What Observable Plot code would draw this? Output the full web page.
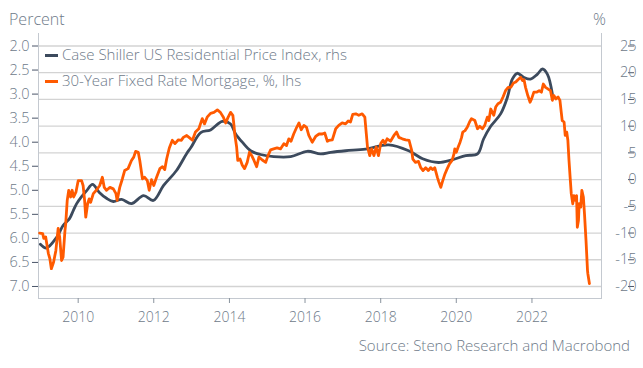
<!DOCTYPE html>
<html>
<head>
<meta charset="utf-8">
<script src="https://cdn.jsdelivr.net/npm/d3@7"></script>
<script src="https://cdn.jsdelivr.net/npm/@observablehq/plot@0.6"></script>
<style>
  html, body { margin: 0; padding: 0; background: #fff; }
  #wrap { position: relative; width: 643px; height: 368px; font-family: "Open Sans", sans-serif; color: #6e7a89; }
  .ov { position: absolute; white-space: nowrap; font-weight: 300; }
  .sw { position: absolute; width: 13px; height: 3px; }
</style>
</head>
<body>
<div id="wrap"></div>
<script>
// 30-Year Fixed Rate Mortgage, %, lhs (inverted axis)
const mortYears = [2008.98,2009.06,2009.09,2009.14,2009.21,2009.25,2009.29,2009.35,2009.41,2009.47,2009.51,2009.56,2009.60,2009.65,2009.67,2009.71,2009.75,2009.80,2009.84,2009.88,2009.94,2010.00,2010.09,2010.13,2010.17,2010.20,2010.25,2010.29,2010.33,2010.40,2010.48,2010.57,2010.64,2010.69,2010.75,2010.84,2010.93,2011.00,2011.03,2011.10,2011.17,2011.23,2011.32,2011.41,2011.47,2011.52,2011.59,2011.63,2011.70,2011.76,2011.83,2011.88,2011.94,2012.00,2012.07,2012.16,2012.23,2012.29,2012.34,2012.41,2012.49,2012.56,2012.65,2012.73,2012.78,2012.87,2012.93,2013.02,2013.10,2013.19,2013.28,2013.34,2013.41,2013.50,2013.59,2013.68,2013.76,2013.84,2013.90,2013.96,2014.03,2014.09,2014.12,2014.14,2014.19,2014.22,2014.28,2014.34,2014.40,2014.47,2014.53,2014.59,2014.65,2014.72,2014.78,2014.87,2014.96,2015.02,2015.09,2015.17,2015.26,2015.35,2015.44,2015.51,2015.57,2015.63,2015.70,2015.78,2015.84,2015.90,2015.97,2016.04,2016.10,2016.19,2016.28,2016.37,2016.46,2016.52,2016.59,2016.63,2016.72,2016.81,2016.89,2016.98,2017.07,2017.14,2017.20,2017.26,2017.34,2017.42,2017.51,2017.58,2017.62,2017.65,2017.71,2017.76,2017.82,2017.88,2017.94,2018.00,2018.06,2018.11,2018.17,2018.26,2018.35,2018.42,2018.48,2018.57,2018.66,2018.75,2018.82,2018.85,2018.92,2019.00,2019.06,2019.12,2019.19,2019.26,2019.32,2019.38,2019.43,2019.50,2019.54,2019.59,2019.63,2019.70,2019.76,2019.82,2019.89,2019.94,2019.96,2020.00,2020.05,2020.10,2020.14,2020.17,2020.23,2020.29,2020.35,2020.40,2020.49,2020.56,2020.62,2020.69,2020.75,2020.82,2020.86,2020.91,2020.95,2020.99,2021.04,2021.10,2021.17,2021.24,2021.30,2021.37,2021.44,2021.51,2021.57,2021.63,2021.70,2021.75,2021.79,2021.83,2021.89,2021.95,2021.99,2022.05,2022.12,2022.19,2022.25,2022.30,2022.36,2022.42,2022.49,2022.54,2022.58,2022.63,2022.69,2022.74,2022.78,2022.80,2022.85,2022.88,2022.92,2022.95,2022.98,2023.01,2023.04,2023.08,2023.11,2023.15,2023.18,2023.20,2023.23,2023.25,2023.29,2023.32,2023.36,2023.39,2023.43,2023.47,2023.48,2023.52];
const mortRates = [5.89,5.90,6.00,5.97,6.31,6.42,6.63,6.49,6.25,5.79,5.97,6.46,6.39,5.84,5.70,5.21,5.00,5.14,5.00,5.14,5.04,4.80,4.80,4.90,5.21,5.56,5.28,5.18,5.25,5.07,5.00,4.90,4.73,4.94,5.00,4.94,4.97,5.07,5.21,4.94,4.76,4.59,4.55,4.38,4.31,4.19,4.21,4.38,4.76,4.73,4.80,5.00,4.78,4.90,4.74,4.55,4.51,4.57,4.35,4.12,3.96,4.03,3.95,3.96,3.90,3.86,3.90,3.96,3.79,3.72,3.51,3.62,3.48,3.40,3.38,3.33,3.38,3.48,3.60,3.49,3.38,3.44,3.65,3.83,4.10,4.38,4.35,4.48,4.55,4.42,4.21,4.28,4.38,4.51,4.31,4.37,4.42,4.28,4.16,4.14,4.12,4.14,4.03,4.07,3.93,3.98,3.83,3.69,3.60,3.74,3.65,3.69,3.86,4.00,3.88,3.83,3.83,3.81,3.98,3.96,3.95,3.72,3.65,3.60,3.62,3.56,3.58,3.42,3.41,3.44,3.41,3.48,3.83,4.10,4.28,4.14,4.28,4.10,4.28,4.03,3.96,4.03,3.93,3.98,3.86,3.79,3.90,3.93,3.95,3.96,4.17,4.35,4.42,4.40,4.53,4.59,4.53,4.59,4.53,4.57,4.53,4.73,4.83,4.94,4.83,4.66,4.55,4.45,4.38,4.24,4.14,4.21,4.10,4.00,3.90,3.79,3.76,3.69,3.58,3.51,3.55,3.72,3.67,3.72,3.65,3.48,3.55,3.31,3.38,3.44,3.27,3.20,3.17,3.05,2.93,2.86,2.86,2.77,2.75,2.70,2.65,2.72,2.70,2.86,3.03,3.17,3.10,2.96,2.96,2.93,2.96,2.79,2.86,2.89,2.93,3.13,3.03,3.10,3.06,3.13,3.41,3.55,3.58,3.86,3.79,3.96,4.38,4.73,5.07,5.28,5.11,5.21,5.11,5.77,5.63,5.28,5.35,5.00,5.14,5.49,6.04,6.67,6.74,6.94];

// Case Shiller US Residential Price Index, % y/y, rhs
const csYears = [2009.00,2009.16,2009.43,2009.60,2009.77,2009.87,2009.96,2010.09,2010.22,2010.38,2010.56,2010.75,2010.93,2011.15,2011.41,2011.73,2011.99,2012.26,2012.60,2012.87,2012.98,2013.24,2013.50,2013.81,2014.03,2014.16,2014.34,2014.56,2014.82,2015.17,2015.62,2016.06,2016.41,2016.68,2017.07,2017.60,2018.21,2018.74,2019.11,2019.53,2019.89,2020.25,2020.56,2020.72,2020.90,2021.17,2021.35,2021.48,2021.61,2021.79,2021.96,2022.14,2022.28,2022.41,2022.54];
const csValues = [-12.1,-12.8,-10.8,-8.6,-7.3,-5.8,-4.5,-3.2,-2.1,-0.9,-2.4,-3.5,-4.1,-3.7,-4.5,-3.0,-3.9,-1.1,1.7,4.9,6.0,8.8,9.3,10.9,10.4,8.6,7.0,5.4,4.7,4.3,4.3,5.3,4.8,5.1,5.4,5.7,6.5,5.4,3.9,3.2,3.7,4.5,4.8,7.6,9.9,12.3,15.4,18.8,19.9,19.1,18.8,19.7,20.7,19.7,16.0];

// Tick labels
const leftTicks = [2.0,2.5,3.0,3.5,4.0,4.5,5.0,5.5,6.0,6.5,7.0];
const rightTicks = [25,20,15,10,5,0,-5,-10,-15,-20];
const xTickYears = [2010,2012,2014,2016,2018,2020,2022];

const orange = "#ff5a00";
const slate = "#3c4a5d";
const textCol = "#6e7a89";

function toDate(d) {
  const y = Math.floor(d);
  const a = Date.UTC(y, 0, 1), b = Date.UTC(y + 1, 0, 1);
  return new Date(a + (d - y) * (b - a));
}
// map right-axis (Case Shiller %) onto left-axis (rate) space
const toRate = v => 2 + (25 - v) / 9;
const fromRate = r => Math.round(25 - (r - 2) * 9);

const mort = mortYears.map((t, i) => ({date: toDate(t), v: mortRates[i]}));
const cs = csYears.map((t, i) => ({date: toDate(t), v: toRate(csValues[i])}));

const chart = Plot.plot({
  width: 643,
  height: 368,
  marginLeft: 38,
  marginRight: 42,
  marginTop: 33,
  marginBottom: 70,
  style: {fontFamily: "'Open Sans', sans-serif", fontSize: "13px", color: textCol, background: "transparent", fontWeight: 300},
  x: {type: "utc", domain: [toDate(2008.95), toDate(2023.84)]},
  y: {domain: [7.25, 1.74]},
  marks: [
    Plot.ruleY(rightTicks.map(toRate), {stroke: "#d3d3d3", strokeWidth: 1.3}),
    Plot.frame({anchor: "left", stroke: "#c4c9d0"}),
    Plot.frame({anchor: "right", stroke: "#c4c9d0"}),
    Plot.frame({anchor: "bottom", stroke: "#c4c9d0"}),
    Plot.axisY({anchor: "left", ticks: leftTicks, tickFormat: d3.format(".1f"), tickSize: 6, tickPadding: 3, stroke: "#4a5568", fill: textCol, label: null, fontSize: 14.5}),
    Plot.axisY({anchor: "right", ticks: rightTicks.map(toRate), tickFormat: r => String(fromRate(r)), tickSize: 6, tickPadding: 3, textAnchor: "end", dx: 26, stroke: "#4a5568", fill: textCol, label: null, fontSize: 14.5}),
    Plot.axisX({ticks: xTickYears.map(toDate), tickFormat: d => String(d.getUTCFullYear()), tickSize: 5, tickPadding: 9, stroke: "#8a939e", fill: textCol, label: null, fontSize: 14}),
    Plot.line(cs, {x: "date", y: "v", stroke: slate, strokeWidth: 2.8, curve: "catmull-rom"}),
    Plot.line(mort, {x: "date", y: "v", stroke: orange, strokeWidth: 2.8, strokeLinejoin: "round"})
  ]
});

const wrap = document.getElementById("wrap");
wrap.appendChild(chart);
chart.style.position = "absolute";
chart.style.left = "0px";
chart.style.top = "0px";

function addText(txt, left, top, size, extra) {
  const el = document.createElement("div");
  el.className = "ov";
  el.textContent = txt;
  el.style.left = left + "px";
  el.style.top = top + "px";
  el.style.fontSize = size + "px";
  if (extra) Object.assign(el.style, extra);
  wrap.appendChild(el);
  return el;
}
function addSwatch(color, left, top) {
  const el = document.createElement("div");
  el.className = "sw";
  el.style.background = color;
  el.style.left = left + "px";
  el.style.top = top + "px";
  wrap.appendChild(el);
}
addText("Percent", 9, 8, 16);
addText("%", 593, 8, 16);
addText("Source: Steno Research and Macrobond", null, 335, 15, {right: "13px", left: "auto"});
addSwatch(slate, 45, 54);
addSwatch(orange, 45, 80);
addText("Case Shiller US Residential Price Index, rhs", 62, 44, 15);
addText("30-Year Fixed Rate Mortgage, %, lhs", 62, 70, 15);
</script>
</body>
</html>
